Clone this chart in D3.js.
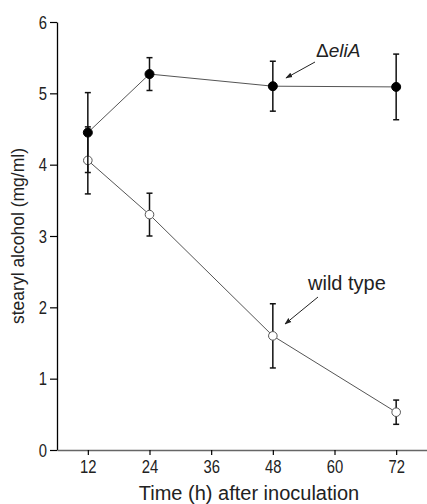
<!DOCTYPE html>
<html>
<head>
<meta charset="utf-8">
<script src="https://cdn.jsdelivr.net/npm/d3@7"></script>
<style>
  body { margin: 0; background: #fff; }
  svg { display: block; }
</style>
</head>
<body>
<script>
const hours = [12, 24, 48, 72]
const eliA = [4.45, 5.27, 5.10, 5.09]
const eliAErr = [0.56, 0.23, 0.35, 0.46]
const wild = [4.06, 3.30, 1.60, 0.53]
const wildErr = [0.47, 0.30, 0.45, 0.17]
const xTicks = [12, 24, 36, 48, 60, 72]
const yTicks = [0, 1, 2, 3, 4, 5, 6]

const width = 427, height = 504
const sans = "'Liberation Sans', Arial, sans-serif"

const svg = d3.select("body").append("svg")
    .attr("width", width)
    .attr("height", height)

const x = d3.scaleLinear().domain([6, 78]).range([57, 427])
const y = d3.scaleLinear().domain([0, 6]).range([450, 22])

// axes
const yAxis = svg.append("g")
    .attr("transform", "translate(57,0)")
    .call(d3.axisLeft(y).tickValues(yTicks).tickFormat(d3.format("d"))
        .tickSize(7).tickPadding(6).tickSizeOuter(0))
yAxis.select(".domain").attr("stroke", "#000").attr("stroke-width", 1.3)
yAxis.selectAll(".tick line").attr("stroke-width", 1.2)
yAxis.selectAll("text").style("font", "19px " + sans).attr("fill", "#222")
    .attr("transform", "scale(0.78,1)")

const xAxis = svg.append("g")
    .attr("transform", "translate(0,450)")
    .call(d3.axisBottom(x).tickValues(xTicks).tickSize(5).tickPadding(5).tickSizeOuter(0))
xAxis.select(".domain").attr("stroke", "#666").attr("stroke-width", 1.3)
xAxis.selectAll(".tick line").attr("stroke-width", 1.2)
xAxis.selectAll("text").style("font", "19px " + sans).attr("fill", "#222")
    .attr("transform", "scale(0.78,1)")

svg.append("text")
    .attr("transform", "translate(24,236) rotate(-90)")
    .attr("text-anchor", "middle")
    .style("font", "17.5px " + sans)
    .attr("fill", "#222")
    .text("stearyl alcohol (mg/ml)")

svg.append("text")
    .attr("x", 249).attr("y", 500)
    .attr("text-anchor", "middle")
    .style("font", "20px " + sans)
    .attr("fill", "#222")
    .text("Time (h) after inoculation")

function series(vals, errs, filled) {
    const pts = hours.map((h, i) => ({h: h, v: vals[i], e: errs[i]}))
    const g = svg.append("g")
    g.append("path")
        .datum(pts)
        .attr("fill", "none")
        .attr("stroke", "#555")
        .attr("stroke-width", 1)
        .attr("d", d3.line().x(d => x(d.h)).y(d => y(d.v)))
    const eb = g.selectAll(".eb").data(pts).join("g")
        .attr("stroke", "#111").attr("stroke-width", 1.5)
    eb.append("line")
        .attr("x1", d => x(d.h)).attr("x2", d => x(d.h))
        .attr("y1", d => y(d.v - d.e)).attr("y2", d => y(d.v + d.e))
    eb.append("line")
        .attr("x1", d => x(d.h) - 3).attr("x2", d => x(d.h) + 3)
        .attr("y1", d => y(d.v - d.e)).attr("y2", d => y(d.v - d.e))
    eb.append("line")
        .attr("x1", d => x(d.h) - 3).attr("x2", d => x(d.h) + 3)
        .attr("y1", d => y(d.v + d.e)).attr("y2", d => y(d.v + d.e))
    g.selectAll("circle").data(pts).join("circle")
        .attr("cx", d => x(d.h)).attr("cy", d => y(d.v))
        .attr("r", filled ? 4.5 : 4.3)
        .attr("fill", filled ? "#000" : "#fff")
        .attr("stroke", filled ? "#000" : "#555")
        .attr("stroke-width", 1)
}

series(wild, wildErr, false)
series(eliA, eliAErr, true)

// annotations
svg.append("defs").append("marker")
    .attr("id", "arr")
    .attr("viewBox", "0 0 10 10")
    .attr("refX", 9).attr("refY", 5)
    .attr("markerWidth", 7).attr("markerHeight", 7)
    .attr("orient", "auto")
    .append("path").attr("d", "M0,1.5L10,5L0,8.5Z").attr("fill", "#222")

svg.append("line")
    .attr("x1", 315).attr("y1", 62).attr("x2", 286).attr("y2", 78)
    .attr("stroke", "#222").attr("stroke-width", 1).attr("marker-end", "url(#arr)")
const lab = svg.append("text")
    .attr("x", 316).attr("y", 57)
    .style("font", "19px " + sans)
    .attr("fill", "#222")
lab.append("tspan").text("\u0394")
lab.append("tspan").style("font-style", "italic").text("eliA")

svg.append("line")
    .attr("x1", 318).attr("y1", 297).attr("x2", 285).attr("y2", 324)
    .attr("stroke", "#222").attr("stroke-width", 1).attr("marker-end", "url(#arr)")
svg.append("text")
    .attr("x", 308).attr("y", 290)
    .style("font", "20px " + sans)
    .attr("fill", "#222")
    .text("wild type")
</script>
</body>
</html>
